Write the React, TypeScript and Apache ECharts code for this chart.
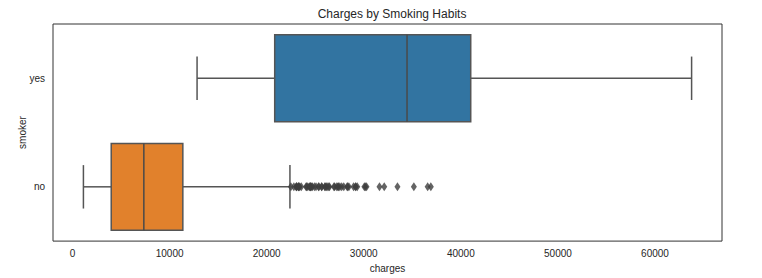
import React, { useEffect, useRef } from "react";
import * as echarts from "echarts";

const categories = ["no", "yes"];
// [min whisker, Q1, median, Q3, max whisker]
const noStats = [1121.87, 3986.44, 7345.41, 11362.89, 22395.74];
const yesStats = [12829.46, 20826.24, 34456.35, 41019.21, 63770.43];
const noOutliers = [
  22493, 22800, 23045, 23065, 23082, 23241, 23288, 23306, 23401, 23563,
  24059, 24106, 24227, 24393, 24476, 24513, 24520, 24667, 24671, 24915,
  25081, 25333, 25382, 25656, 25678, 25992, 26018, 26140, 26236, 26392,
  26467, 26926, 27000, 27218, 27346, 27375, 27533, 27724, 27941, 28287,
  28340, 28468, 28950, 29141, 29186, 29330, 30063, 30166, 30284, 31620,
  32108, 33471, 35160, 36580, 36910,
];
const boxColors = ["#e1812c", "#3274a1"];
const xTicks = [0, 10000, 20000, 30000, 40000, 50000, 60000];

const FONT = "Liberation Sans, Arial, sans-serif";
const LINE = "#555555";

export default function App() {
  const ref = useRef<HTMLDivElement>(null);
  useEffect(() => {
    if (!ref.current) return;
    const chart = echarts.init(ref.current, null, { renderer: "svg" });
    const boxData = [
      [0, ...noStats],
      [1, ...yesStats],
    ];
    chart.setOption({
      animation: false,
      textStyle: { fontFamily: FONT },
      title: {
        text: "Charges by Smoking Habits",
        left: 387,
        textAlign: "center",
        top: 3,
        textStyle: { fontFamily: FONT, fontSize: 12, fontWeight: "normal", color: "#262626" },
      },
      grid: {
        left: 53,
        right: 40,
        top: 24,
        bottom: 36,
        show: true,
        borderColor: "#333333",
        borderWidth: 1,
        backgroundColor: "#ffffff",
      },
      xAxis: {
        type: "value",
        min: -2011,
        max: 66902,
        name: "charges",
        nameLocation: "middle",
        nameGap: 20,
        nameTextStyle: { fontFamily: FONT, fontSize: 10, color: "#262626" },
        axisLine: { show: false },
        axisTick: { show: false },
        splitLine: { show: false },
        axisLabel: {
          customValues: xTicks,
          formatter: (v: number) => String(v),
          fontFamily: FONT,
          fontSize: 10,
          color: "#262626",
          margin: 7,
        },
      },
      yAxis: {
        type: "category",
        data: categories,
        name: "smoker",
        nameLocation: "middle",
        nameGap: 26,
        nameMoveOverlap: false,
        nameTextStyle: { fontFamily: FONT, fontSize: 10, color: "#262626" },
        axisLine: { show: false },
        axisTick: { show: false },
        splitLine: { show: false },
        axisLabel: {
          fontFamily: FONT,
          fontSize: 10,
          color: "#262626",
          margin: 8,
          padding: [4, 0, 0, 0],
        },
      },
      series: [
        {
          type: "custom",
          data: boxData,
          encode: { x: [1, 2, 3, 4, 5], y: 0 },
          renderItem: (params: any, api: any) => {
            const cat = api.value(0);
            const lo = api.coord([api.value(1), cat]);
            const q1 = api.coord([api.value(2), cat]);
            const med = api.coord([api.value(3), cat]);
            const q3 = api.coord([api.value(4), cat]);
            const hi = api.coord([api.value(5), cat]);
            const band = api.size([0, 1])[1];
            const bw = band * 0.8;
            const cy = lo[1];
            const ls = { stroke: LINE, lineWidth: 1.5 };
            return {
              type: "group",
              children: [
                { type: "line", shape: { x1: lo[0], y1: cy, x2: q1[0], y2: cy }, style: ls },
                { type: "line", shape: { x1: q3[0], y1: cy, x2: hi[0], y2: cy }, style: ls },
                { type: "line", shape: { x1: lo[0], y1: cy - bw / 4, x2: lo[0], y2: cy + bw / 4 }, style: ls },
                { type: "line", shape: { x1: hi[0], y1: cy - bw / 4, x2: hi[0], y2: cy + bw / 4 }, style: ls },
                {
                  type: "rect",
                  shape: { x: q1[0], y: cy - bw / 2, width: q3[0] - q1[0], height: bw },
                  style: { fill: boxColors[cat], stroke: LINE, lineWidth: 1.5 },
                },
                { type: "line", shape: { x1: med[0], y1: cy - bw / 2, x2: med[0], y2: cy + bw / 2 }, style: { stroke: "#4a4a4a", lineWidth: 1.5 } },
              ],
            };
          },
          z: 2,
        },
        {
          type: "scatter",
          data: noOutliers.map((v) => [v, 0]),
          symbol: "diamond",
          symbolSize: [6, 9],
          itemStyle: { color: "#3d3d3d" },
          z: 3,
        },
      ],
    });
    return () => chart.dispose();
  }, []);
  return (
    <div
      ref={ref}
      style={{ position: "fixed", left: 0, top: 0, width: 762, height: 278, background: "#fff" }}
    />
  );
}
